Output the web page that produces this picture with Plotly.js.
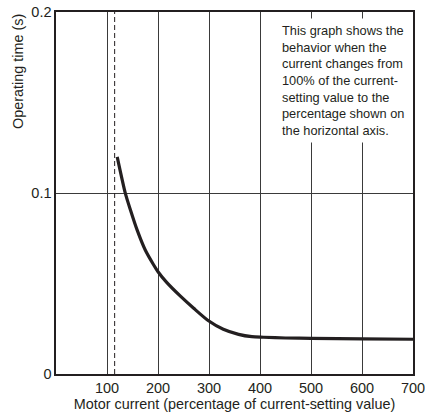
<!DOCTYPE html>
<html><head><meta charset="utf-8">
<script src="https://cdn.plot.ly/plotly-3.0.1.min.js"></script>
<style>html,body{margin:0;padding:0;background:#fff}#chart{width:425px;height:412px}</style>
</head><body><div id="chart"></div>
<script>
const motorCurrent = [120, 136, 146, 159, 175, 191, 200, 217, 245, 270, 299, 328, 358, 384, 407, 450, 500, 600, 700];
const operatingTime = [0.1200, 0.0998, 0.0906, 0.0796, 0.0685, 0.0605, 0.0565, 0.0506, 0.0427, 0.0363, 0.0294, 0.0247, 0.0219, 0.0206, 0.0203, 0.0199, 0.0197, 0.0194, 0.0192];
const settingLine = [115, 115];
const settingRange = [0, 0.2];
const xTicks = [100, 200, 300, 400, 500, 600, 700];
const yTicks = [0, 0.1, 0.2];
const yTickText = ['0', '0.1', '0.2'];
const xTitle = 'Motor current (percentage of current-setting value)';
const yTitle = 'Operating time (s)';
const noteText = 'This graph shows the<br>behavior when the<br>current changes from<br>100% of the current-<br>setting value to the<br>percentage shown on<br>the horizontal axis.';

const traces = [
  {x: settingLine, y: settingRange, mode: 'lines', line: {color: '#231f20', width: 1, dash: '5px,3px'}, hoverinfo: 'skip'},
  {x: motorCurrent, y: operatingTime, mode: 'lines', line: {color: '#231f20', width: 3.2, shape: 'spline', smoothing: 0.7}}
];
const fontFam = 'Liberation Sans, Arial, sans-serif';
const layout = {
  width: 425, height: 412,
  margin: {l: 56, r: 12, t: 12, b: 38},
  paper_bgcolor: '#fff', plot_bgcolor: '#fff',
  showlegend: false,
  font: {family: fontFam, size: 14.5, color: '#231f20'},
  xaxis: {range: [0, 700], tickvals: xTicks, ticktext: xTicks.map(String), showgrid: true, gridcolor: '#3a3a3a', gridwidth: 1,
    zeroline: false, showline: true, linecolor: '#231f20', linewidth: 1.6, mirror: true, ticks: '',
    ticklabeloverflow: 'allow', automargin: false,
    tickfont: {size: 14.5}, title: {text: xTitle, font: {size: 14.4}, standoff: 2}},
  yaxis: {range: [0, 0.2], tickvals: yTicks, ticktext: yTickText, showgrid: true, gridcolor: '#3a3a3a', gridwidth: 1,
    zeroline: false, showline: true, linecolor: '#231f20', linewidth: 1.6, mirror: true, ticks: '',
    ticklabeloverflow: 'allow', automargin: false,
    tickfont: {size: 14.5}},
  annotations: [
    {xref: 'paper', yref: 'paper', x: 0.619, y: 0.983, xanchor: 'left', yanchor: 'top', align: 'left',
     text: noteText, showarrow: false, bgcolor: '#fff', borderpad: 4, font: {size: 12.8, color: '#231f20'}},
    {xref: 'paper', yref: 'paper', x: -0.108, y: 1.0, xanchor: 'center', yanchor: 'top', textangle: -90,
     text: yTitle, showarrow: false, font: {size: 14.4, color: '#231f20'}}
  ]
};
Plotly.newPlot('chart', traces, layout, {displayModeBar: false, staticPlot: true});
</script></body></html>
